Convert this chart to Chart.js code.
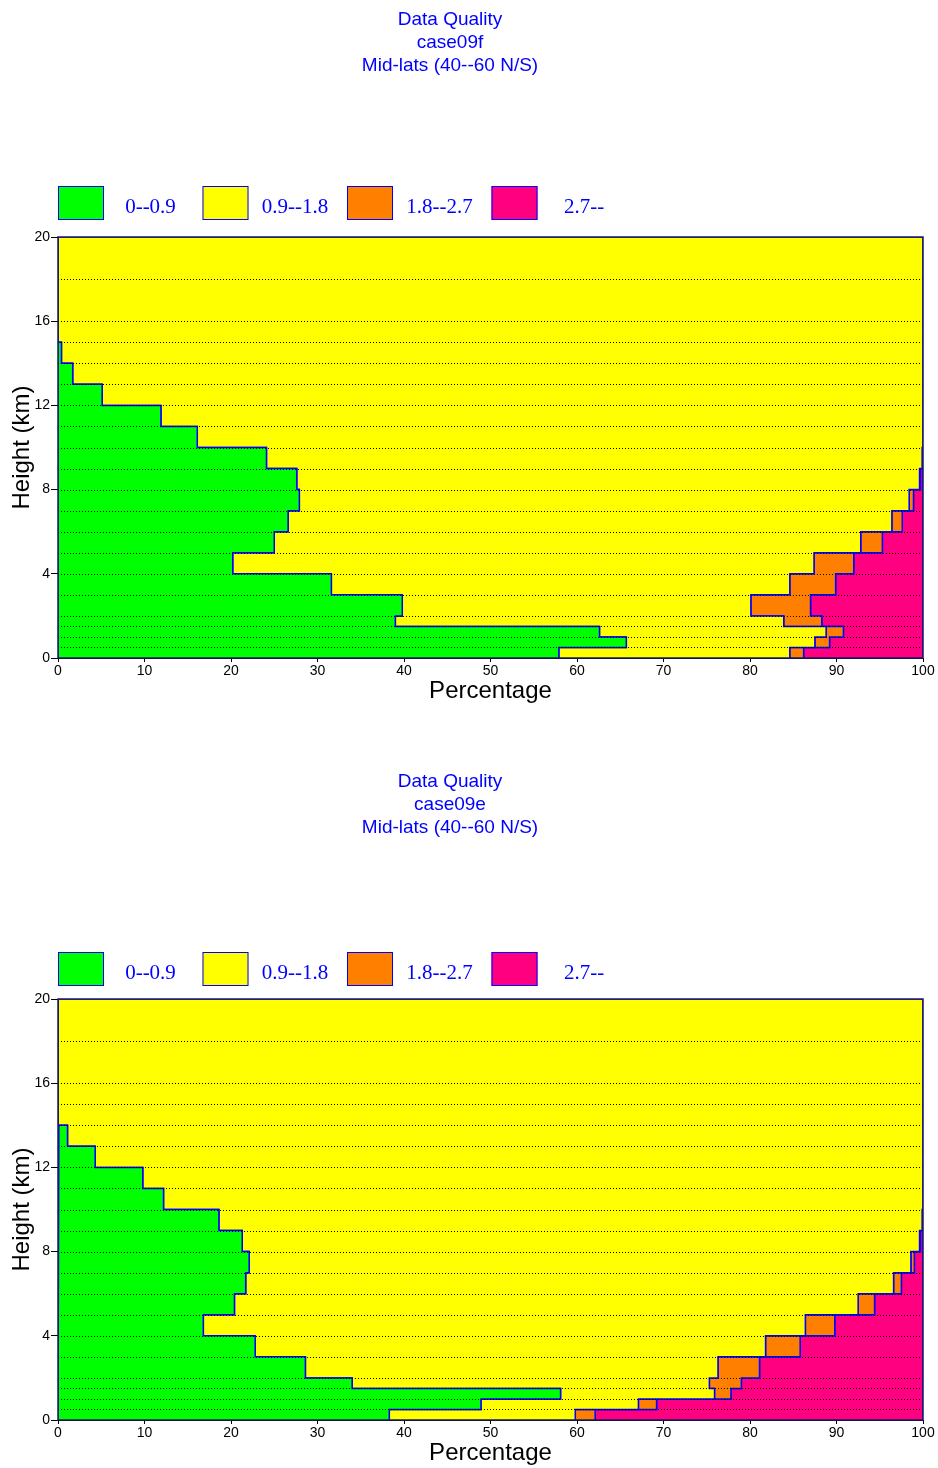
<!DOCTYPE html>
<html>
<head>
<meta charset="utf-8">
<script src="https://cdn.jsdelivr.net/npm/chart.js@4.4.0/dist/chart.umd.min.js"></script>
<style>
  body { margin: 0; background: #fff; width: 938px; height: 1468px; overflow: hidden; position: relative; }
  canvas { position: absolute; left: 0; }
</style>
</head>
<body>
<canvas id="chartF" width="938" height="706" style="top:0px"></canvas>
<canvas id="chartE" width="938" height="706" style="top:762px"></canvas>
<script>
// height bins (km), bottom -> top
var binEdges = [0, 0.5, 1, 1.5, 2, 3, 4, 5, 6, 7, 8, 9, 10, 11, 12, 13, 14, 15, 16, 18, 20];
var classLabels = ['0--0.9', '0.9--1.8', '1.8--2.7', '2.7--'];
var classColors = ['#00ff00', '#ffff00', '#ff8000', '#ff0080'];
var yTickStep = 4;
var xTickStep = 10;

// case09f : percentage of each quality class per height bin
var f_q1 = [57.9, 65.7, 62.6, 39.0, 39.8, 31.6, 20.2, 25.0, 26.6, 27.9, 27.6, 24.1, 16.1, 11.9, 5.1, 1.7, 0.4, 0, 0, 0];
var f_q2 = [26.7, 21.8, 26.2, 44.9, 40.3, 53.0, 67.2, 67.8, 69.8, 70.5, 72.0, 75.8, 83.9, 88.1, 94.9, 98.3, 99.6, 100, 100, 100];
var f_q3 = [1.6, 1.7, 2.0, 4.4, 6.9, 5.3, 4.6, 2.5, 1.2, 0.5, 0.1, 0, 0, 0, 0, 0, 0, 0, 0, 0];
var f_q4 = [13.8, 10.8, 9.2, 11.7, 13.0, 10.1, 8.0, 4.7, 2.4, 1.1, 0.3, 0.1, 0, 0, 0, 0, 0, 0, 0, 0];

// case09e
var e_q1 = [38.3, 48.9, 58.1, 34.0, 28.6, 22.8, 16.8, 20.4, 21.7, 22.1, 21.3, 18.6, 12.2, 9.8, 4.3, 1.1, 0.1, 0, 0, 0];
var e_q2 = [21.5, 18.2, 17.8, 41.3, 47.7, 59.0, 69.6, 72.1, 74.9, 76.5, 78.3, 81.3, 87.8, 90.2, 95.7, 98.9, 99.9, 100, 100, 100];
var e_q3 = [2.3, 2.1, 1.9, 3.7, 4.8, 4.0, 3.4, 1.9, 0.9, 0.4, 0.1, 0, 0, 0, 0, 0, 0, 0, 0, 0];
var e_q4 = [37.9, 30.8, 22.2, 21.0, 18.9, 14.2, 10.2, 5.6, 2.5, 1.0, 0.3, 0.1, 0, 0, 0, 0, 0, 0, 0, 0];

// closed step outline between two cumulative edges
function stepShape(left, right) {
    var pts = [];
    for (var i = 0; i < right.length; i++) {
        pts.push({x: right[i], y: binEdges[i]});
        pts.push({x: right[i], y: binEdges[i + 1]});
    }
    for (var j = left.length - 1; j >= 0; j--) {
        pts.push({x: left[j], y: binEdges[j + 1]});
        pts.push({x: left[j], y: binEdges[j]});
    }
    return pts;
}

function buildDatasets(classes) {
    var sets = [];
    var lower = classes[0].map(function () { return 0; });
    classes.forEach(function (vals, k) {
        var upper = lower.map(function (v, i) { return v + vals[i]; });
        sets.push({
            label: classLabels[k],
            data: stepShape(lower, upper),
            showLine: true,
            fill: 'shape',
            backgroundColor: classColors[k],
            borderColor: '#0000ff',
            borderWidth: 1.5,
            pointRadius: 0,
            tension: 0,
        });
        lower = upper;
    });
    return sets;
}

var qualityPlugin = {
    id: 'quality',
    afterDatasetsDraw: function (chart) {
        var ctx = chart.ctx, a = chart.chartArea, ys = chart.scales.y;
        ctx.save();
        // dotted level lines
        ctx.strokeStyle = '#000';
        ctx.lineWidth = 1;
        ctx.setLineDash([1, 2]);
        binEdges.slice(1, -1).forEach(function (h) {
            var py = Math.round(ys.getPixelForValue(h)) + 0.5;
            ctx.beginPath();
            ctx.moveTo(a.left, py);
            ctx.lineTo(a.right, py);
            ctx.stroke();
        });
        ctx.setLineDash([]);
        // frame
        ctx.strokeStyle = '#1a1a66';
        ctx.lineWidth = 1.5;
        ctx.strokeRect(a.left, a.top, a.right - a.left, a.bottom - a.top);
        ctx.restore();
    },
    afterDraw: function (chart, args, opts) {
        var ctx = chart.ctx;
        ctx.save();
        ctx.fillStyle = '#0000ff';
        ctx.textAlign = 'center';
        ctx.textBaseline = 'middle';
        ctx.font = '19px "Liberation Sans", Arial, sans-serif';
        opts.lines.forEach(function (t, i) {
            ctx.fillText(t, 450, 20 + i * 23);
        });
        // legend
        var ly = opts.legendTop;
        ctx.font = '21px "Liberation Serif", "Times New Roman", serif';
        classLabels.forEach(function (lab, i) {
            var bx = 58 + i * 144.5;
            ctx.fillStyle = classColors[i];
            ctx.fillRect(bx, ly, 46, 34);
            ctx.strokeStyle = '#0000ff';
            ctx.lineWidth = 1;
            ctx.strokeRect(bx + 0.5, ly + 0.5, 45, 33);
            ctx.fillStyle = '#0000ff';
            ctx.fillText(lab, bx + 92.5, ly + 21);
        });
        ctx.restore();
    }
};

function makeChart(id, caseName, legendTop, classes) {
    return new Chart(document.getElementById(id), {
        type: 'scatter',
        data: { datasets: buildDatasets(classes) },
        plugins: [qualityPlugin],
        options: {
            responsive: false,
            animation: false,
            layout: { padding: { top: 237, right: 15, bottom: 0, left: 0 } },
            plugins: {
                legend: { display: false },
                tooltip: { enabled: false },
                quality: { lines: ['Data Quality', caseName, 'Mid-lats (40--60 N/S)'], legendTop: legendTop },
            },
            scales: {
                x: {
                    type: 'linear', min: 0, max: 100,
                    ticks: { stepSize: xTickStep, color: '#000', padding: 1, maxRotation: 0,
                             font: { family: 'Liberation Sans', size: 14 } },
                    grid: { drawOnChartArea: false, tickLength: 4, color: '#000' },
                    border: { color: '#000' },
                    title: { display: true, text: 'Percentage', color: '#000', padding: 0,
                             font: { family: 'Liberation Sans', size: 24 } },
                    afterFit: function (s) { s.height = 48; },
                },
                y: {
                    type: 'linear', min: 0, max: 20,
                    ticks: { stepSize: yTickStep, color: '#000', padding: 1,
                             font: { family: 'Liberation Sans', size: 14 } },
                    grid: { drawOnChartArea: false, tickLength: 7, color: '#000' },
                    border: { color: '#000' },
                    title: { display: true, text: 'Height (km)', color: '#000', padding: { top: 7.6, bottom: 0 },
                             font: { family: 'Liberation Sans', size: 24 } },
                    afterFit: function (s) { s.width = 58; },
                },
            },
        },
    });
}

makeChart('chartF', 'case09f', 186, [f_q1, f_q2, f_q3, f_q4]);
makeChart('chartE', 'case09e', 190, [e_q1, e_q2, e_q3, e_q4]);
</script>
</body>
</html>
